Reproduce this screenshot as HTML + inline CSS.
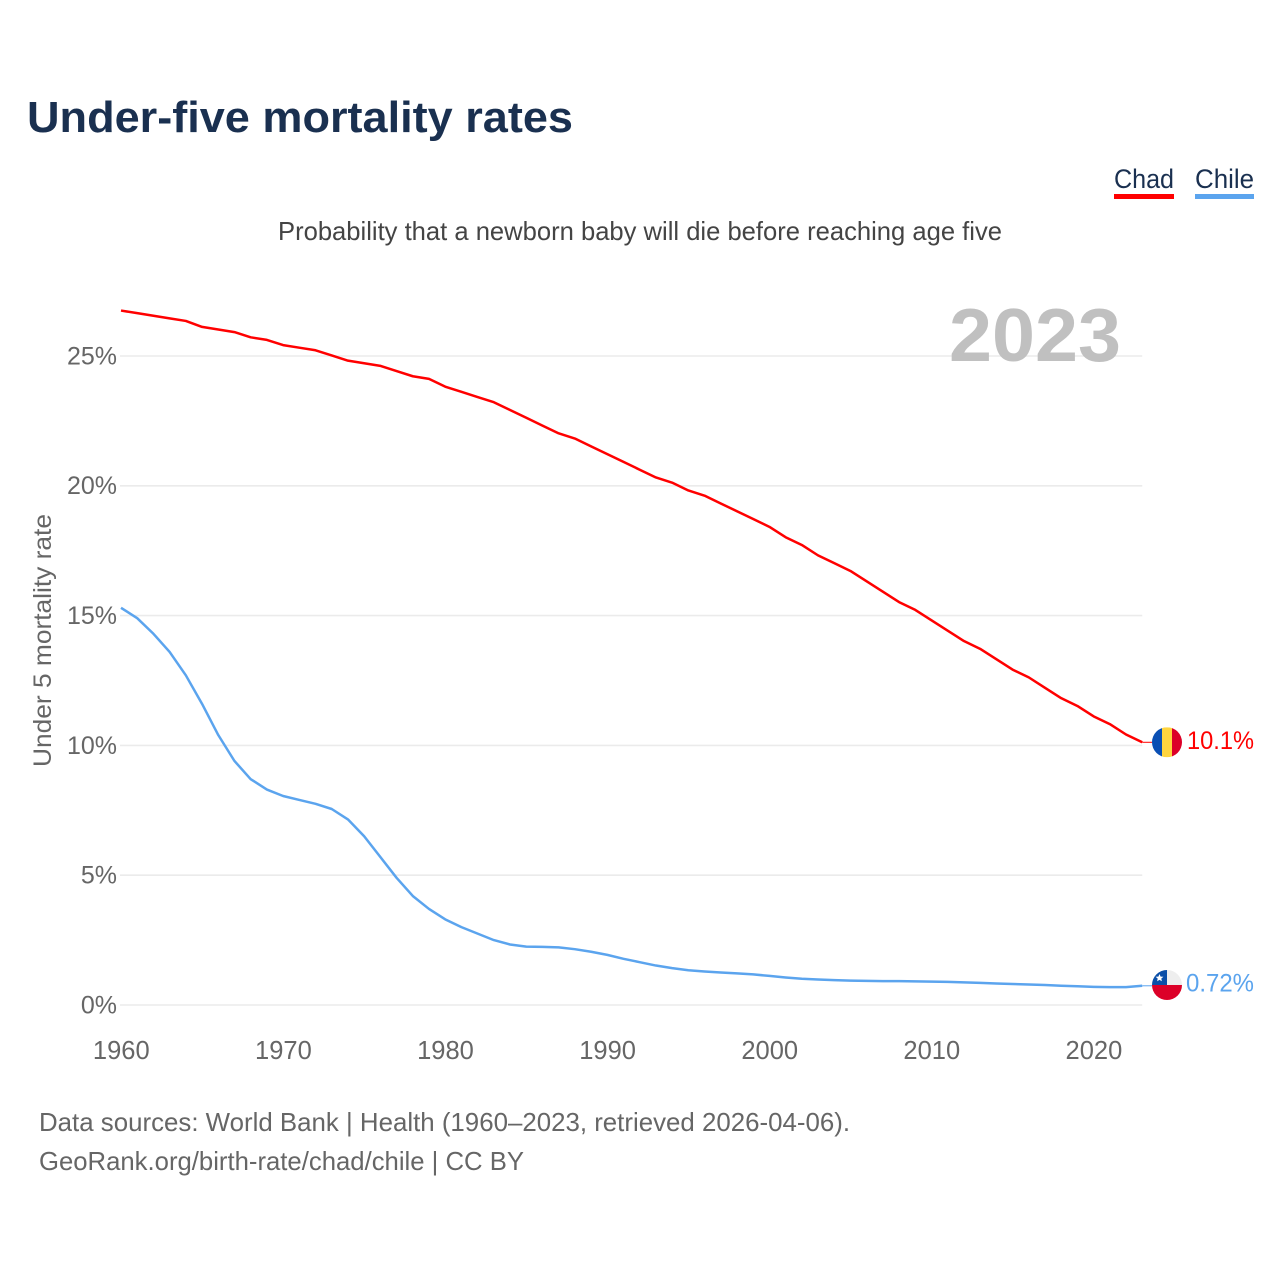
<!DOCTYPE html>
<html lang="en">
<head>
<meta charset="utf-8">
<title>Under-five mortality rates</title>
<style>
html,body{margin:0;padding:0;background:#fff;}
svg{display:block;font-family:"Liberation Sans",sans-serif;}
</style>
</head>
<body>
<svg id="chart" xmlns="http://www.w3.org/2000/svg" width="1280" height="1280" viewBox="0 0 1280 1280">
  <defs>
    <clipPath id="flag-clip"><circle cx="0" cy="0" r="15"/></clipPath>
  </defs>
  <rect x="0" y="0" width="1280" height="1280" fill="#fff"/>
  <text x="27" y="132" font-size="44" font-weight="700" fill="#1a3050" textLength="546" lengthAdjust="spacingAndGlyphs">Under-five mortality rates</text>
  <text x="278" y="240" font-size="26" fill="#444" textLength="724" lengthAdjust="spacingAndGlyphs">Probability that a newborn baby will die before reaching age five</text>

  <g>
    <text x="1114" y="188" font-size="27" fill="#1a3050" textLength="60" lengthAdjust="spacingAndGlyphs">Chad</text>
    <rect x="1114" y="194" width="60" height="5" fill="#ff0000"/>
  </g>
  <g>
    <text x="1195" y="188" font-size="27" fill="#1a3050" textLength="59" lengthAdjust="spacingAndGlyphs">Chile</text>
    <rect x="1195" y="194" width="59" height="5" fill="#5ba4ee"/>
  </g>

  <g id="grid"></g>
  <g id="y-ticks"></g>
  <g id="x-ticks"></g>

  <text x="949" y="361" font-size="75" font-weight="700" fill="#c0c0c0" textLength="172" lengthAdjust="spacingAndGlyphs">2023</text>
  <text transform="translate(51,767) rotate(-90)" x="0" y="0" font-size="25" fill="#666" textLength="253" lengthAdjust="spacingAndGlyphs">Under 5 mortality rate</text>

  <g id="series"></g>

  <g id="flag-chad" clip-path="url(#flag-clip)">
    <rect x="-15" y="-15" width="10" height="30" fill="#0a4fb4"/>
    <rect x="-5" y="-15" width="10" height="30" fill="#ffd53f"/>
    <rect x="5" y="-15" width="10" height="30" fill="#dc0028"/>
  </g>
  <g id="flag-chile" clip-path="url(#flag-clip)">
    <rect x="-15" y="-15" width="30" height="15" fill="#eeeeee"/>
    <rect x="-15" y="-15" width="15" height="15" fill="#0a4fa8"/>
    <rect x="-15" y="0" width="30" height="15" fill="#dc0028"/>
    <polygon points="-7.5,-11 -6.4,-8.4 -3.6,-8.2 -5.7,-6.4 -5.1,-3.7 -7.5,-5.1 -9.9,-3.7 -9.3,-6.4 -11.4,-8.2 -8.6,-8.4" fill="#fff"/>
  </g>
  <g id="end-labels"></g>

  <text x="39" y="1131" font-size="26" fill="#666" textLength="811" lengthAdjust="spacingAndGlyphs">Data sources: World Bank | Health (1960–2023, retrieved 2026-04-06).</text>
  <text x="39" y="1170" font-size="26" fill="#666" textLength="485" lengthAdjust="spacingAndGlyphs">GeoRank.org/birth-rate/chad/chile | CC BY</text>
</svg>
<script>
const years = [1960,1961,1962,1963,1964,1965,1966,1967,1968,1969,1970,1971,1972,1973,1974,1975,1976,1977,1978,1979,1980,1981,1982,1983,1984,1985,1986,1987,1988,1989,1990,1991,1992,1993,1994,1995,1996,1997,1998,1999,2000,2001,2002,2003,2004,2005,2006,2007,2008,2009,2010,2011,2012,2013,2014,2015,2016,2017,2018,2019,2020,2021,2022,2023];
const chadValues = [26.75,26.65,26.55,26.45,26.35,26.12,26.02,25.92,25.72,25.62,25.42,25.32,25.22,25.02,24.82,24.72,24.62,24.42,24.22,24.12,23.82,23.62,23.42,23.22,22.92,22.62,22.32,22.02,21.82,21.52,21.22,20.92,20.62,20.32,20.12,19.82,19.62,19.32,19.02,18.72,18.42,18.02,17.72,17.32,17.02,16.72,16.32,15.92,15.52,15.22,14.82,14.42,14.02,13.72,13.32,12.92,12.62,12.22,11.82,11.52,11.12,10.82,10.42,10.12];
const chileValues = [15.3,14.9,14.3,13.6,12.7,11.6,10.4,9.4,8.7,8.3,8.05,7.9,7.75,7.55,7.15,6.5,5.7,4.9,4.2,3.7,3.3,3.0,2.75,2.5,2.33,2.25,2.24,2.22,2.15,2.05,1.93,1.78,1.65,1.52,1.42,1.34,1.29,1.25,1.22,1.18,1.12,1.06,1.01,0.98,0.96,0.94,0.93,0.92,0.92,0.91,0.9,0.89,0.87,0.85,0.83,0.81,0.79,0.77,0.74,0.72,0.7,0.69,0.69,0.74];
const yTickValues = [0,5,10,15,20,25];
const yTickLabels = ["0%","5%","10%","15%","20%","25%"];
const xTickValues = [1960,1970,1980,1990,2000,2010,2020];
const endLabels = ["10.1%","0.72%"];

const NS = "http://www.w3.org/2000/svg";
const plotLeft = 121, pxPerYear = 16.21, plotBottom = 1005, pxPerUnit = 25.96;
function xScale(year){ return plotLeft + (year - years[0]) * pxPerYear; }
function yScale(v){ return plotBottom - v * pxPerUnit; }
function make(tag, attrs, parent){
  const el = document.createElementNS(NS, tag);
  for (const k in attrs) el.setAttribute(k, attrs[k]);
  parent.appendChild(el);
  return el;
}
const plotRight = xScale(years[years.length - 1]);

const grid = document.getElementById("grid");
const yTicks = document.getElementById("y-ticks");
yTickValues.forEach(function(v, i){
  const line = make("line", {x1: plotLeft - 1, x2: plotRight, y1: yScale(v), y2: yScale(v), stroke: "#ebebeb", "stroke-width": 1.6}, grid);
  
  
  const t = make("text", {x: 117, y: yScale(v) + 8.4, "text-anchor": "end", "font-size": 25, fill: "#666"}, yTicks);
  
  
  t.textContent = yTickLabels[i];
});

const xTicks = document.getElementById("x-ticks");
xTickValues.forEach(function(year){
  const t = make("text", {x: xScale(year) + 0.3, y: 1059, "text-anchor": "middle", "font-size": 25.5, fill: "#666"}, xTicks);
  
  
  t.textContent = String(year);
});

function linePath(values){
  return values.map(function(v, i){
    return (i ? "L" : "M") + xScale(years[i]).toFixed(2) + " " + yScale(v).toFixed(2);
  }).join("");
}
const series = document.getElementById("series");
const flagCentreX = 1167;
const chadEndY = yScale(chadValues[chadValues.length - 1]);
const chileEndY = yScale(chileValues[chileValues.length - 1]);

const chadLine = make("path", {d: linePath(chadValues), fill: "none", stroke: "#ff0000", "stroke-width": 2.5, "stroke-linejoin": "round"}, series);


const chileLine = make("path", {d: linePath(chileValues), fill: "none", stroke: "#5ba4ee", "stroke-width": 2.5, "stroke-linejoin": "round"}, series);



const chadConnector = make("line", {x1: plotRight, x2: flagCentreX - 15, y1: chadEndY, y2: chadEndY, stroke: "#ff0000", "stroke-width": 1}, series);


const chileConnector = make("line", {x1: plotRight, x2: flagCentreX - 15, y1: chileEndY, y2: chileEndY, stroke: "#5ba4ee", "stroke-width": 1}, series);



document.getElementById("flag-chad").setAttribute("transform", "translate(" + flagCentreX + "," + chadEndY + ")");
document.getElementById("flag-chile").setAttribute("transform", "translate(" + flagCentreX + "," + (chileEndY - 0.8) + ")");

const endGroup = document.getElementById("end-labels");
const chadLabel = make("text", {x: 1187, y: chadEndY + 6.5, "font-size": 25, fill: "#ff0000", textLength: 67, lengthAdjust: "spacingAndGlyphs"}, endGroup);


chadLabel.textContent = endLabels[0];
const chileLabel = make("text", {x: 1186, y: chileEndY + 5.8, "font-size": 25, fill: "#5ba4ee", textLength: 68, lengthAdjust: "spacingAndGlyphs"}, endGroup);


chileLabel.textContent = endLabels[1];
</script>
</body>
</html>
